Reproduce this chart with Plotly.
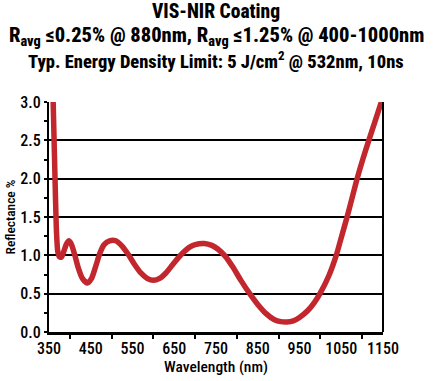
import plotly.graph_objects as go

wavelength = [360, 364, 368, 371, 375, 380, 386, 392, 398, 404, 412, 420, 430, 442, 452, 462, 472, 482, 495, 510,
              525, 540, 555, 570, 585, 600, 615, 630, 645, 660, 672, 685, 700, 722, 740, 755, 772, 790, 810,
              832, 850, 870, 890, 905, 920, 935, 950, 970, 985, 1000, 1020, 1038, 1052, 1064, 1076, 1088, 1102, 1116, 1130, 1146]
reflectance = [3.0, 2.1, 1.3, 1.05, 0.98, 0.98, 1.06, 1.15, 1.19, 1.14, 1.0, 0.84, 0.7, 0.64, 0.7, 0.86, 1.03, 1.14, 1.19, 1.19,
               1.12, 1.01, 0.88, 0.77, 0.7, 0.675, 0.7, 0.77, 0.87, 0.97, 1.04, 1.1, 1.14, 1.155, 1.13, 1.08, 0.99, 0.85, 0.67,
               0.49, 0.36, 0.24, 0.16, 0.135, 0.13, 0.145, 0.19, 0.28, 0.38, 0.51, 0.73, 1.0, 1.27, 1.5, 1.75, 2.0, 2.26, 2.5, 2.73, 3.0]

x_labels = [350, 450, 550, 650, 750, 850, 950, 1050, 1150]
y_labels = [0.0, 0.5, 1.0, 1.5, 2.0, 2.5, 3.0]

FONT = "Roboto Condensed, Noto Sans Condensed, sans-serif"

fig = go.Figure()
fig.add_trace(go.Scatter(x=wavelength, y=reflectance, mode="lines",
                         line=dict(color="#C1272D", width=5.5, shape="spline", smoothing=0.7),
                         hoverinfo="skip", showlegend=False))

titles = ["VIS-NIR Coating",
          "R<sub>avg</sub> ≤0.25% @ 880nm, R<sub>avg</sub> ≤1.25% @ 400-1000nm",
          "Typ. Energy Density Limit: 5 J/cm<sup>2</sup> @ 532nm, 10ns"]
ys = [11.5, 36.5, 60]
sizes = [19.5, 20.5, 18.5]
for t, yy, s in zip(titles, ys, sizes):
    fig.add_annotation(text=t, xref="paper", yref="paper", x=0.5, xanchor="center",
                       y=1 + (101.7 - yy) / 230.0, yanchor="middle", showarrow=False,
                       font=dict(family=FONT, size=s, color="black", weight=800))

fig.update_layout(
    width=435, height=381,
    margin=dict(l=49, r=52, t=102, b=49),
    paper_bgcolor="white", plot_bgcolor="white",
    font=dict(family=FONT, size=16, color="black", weight=500),
    xaxis=dict(range=[350, 1150], tickvals=x_labels, ticks="", showgrid=False, automargin=False,
               showline=True, linecolor="black", linewidth=3, mirror=False,
               title=dict(text="Wavelength (nm)", font=dict(size=15.5), standoff=3),
               minor=dict(tick0=400, dtick=100, ticks="outside", ticklen=4, tickwidth=2, tickcolor="black"),
               zeroline=False, fixedrange=True),
    yaxis=dict(range=[0, 3.0], tickvals=y_labels, ticktext=[f"{v:.1f}" for v in y_labels], automargin=False,
               ticks="outside", ticklen=3, tickwidth=2, tickcolor="black",
               showgrid=True, gridcolor="black", gridwidth=2,
               showline=True, linecolor="black", linewidth=2,
               title=dict(text="Reflectance %", font=dict(size=13.5), standoff=2),
               minor=dict(tick0=0.25, dtick=0.5, ticks="outside", ticklen=3, tickwidth=2, tickcolor="black"),
               zeroline=False, fixedrange=True),
)
fig.add_shape(type="line", xref="paper", yref="paper", x0=1, x1=1, y0=0, y1=1,
              line=dict(color="black", width=2))

fig.write_html("out.html", config={"displayModeBar": False},
               post_script="document.body.style.margin='0';")
